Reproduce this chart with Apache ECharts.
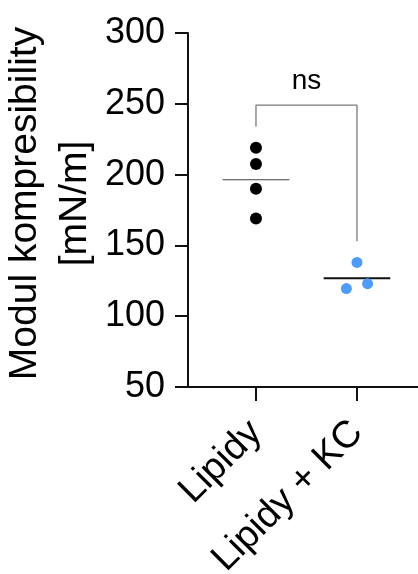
<!DOCTYPE html>
<html>
<head>
<meta charset="utf-8">
<script src="https://cdn.jsdelivr.net/npm/echarts@6/dist/echarts.min.js"></script>
<style>
  html, body { margin: 0; padding: 0; background: #fff; }
  #chart { width: 418px; height: 574px; }
</style>
</head>
<body>
<div id="chart"></div>
<script>
// skupiny a namerene hodnoty
var categories = ['Lipidy', 'Lipidy + KC'];
var lipidy = [219, 207.5, 190, 169];
var lipidyKC = [138, 119.5, 123];
var kcJitter = [0, -0.105, 0.105];
var yTicks = [50, 100, 150, 200, 250, 300];
// vyska zavorky pro ns: levy konec, vrchol, pravy konec
var bracket = [234, 249, 153];
var nsLabel = 'ns';

function mean(arr) {
    var s = 0;
    for (var i = 0; i < arr.length; i++) s += arr[i];
    return s / arr.length;
}

var font = "'Liberation Sans', Arial, sans-serif";
var myChart = echarts.init(document.getElementById('chart'));

var m1 = mean(lipidy), m2 = mean(lipidyKC);

var option = {
    animation: false,
    grid: { left: 188, top: 33, right: 0, bottom: 187, containLabel: false, outerBoundsMode: 'none' },
    xAxis: {
        type: 'value',
        min: 0.327,
        max: 2.604,
        splitLine: { show: false },
        axisLine: { show: true, onZero: false, lineStyle: { color: '#111', width: 2 } },
        axisTick: { show: true, customValues: [1, 2], length: 14, lineStyle: { color: '#111', width: 2 } },
        axisLabel: {
            customValues: [1, 2],
            formatter: function (v) { return categories[Math.round(v) - 1]; },
            rotate: 45,
            margin: 40,
            fontSize: 38,
            color: '#000',
            fontFamily: font
        }
    },
    yAxis: {
        type: 'value',
        min: yTicks[0],
        max: yTicks[yTicks.length - 1],
        interval: 50,
        name: 'Modul kompresibility\n[mN/m]',
        nameLocation: 'middle',
        nameGap: 88,
        nameMoveOverlap: false,
        nameTextStyle: { fontSize: 39, color: '#000', fontFamily: font, lineHeight: 50, padding: [0, 0, 0, 13] },
        splitLine: { show: false },
        axisLine: { show: true, onZero: false, lineStyle: { color: '#111', width: 2 } },
        axisTick: { show: true, length: 13, lineStyle: { color: '#111', width: 2 } },
        axisLabel: { margin: 23, fontSize: 36, color: '#000', fontFamily: font }
    },
    series: [
        {
            type: 'line',
            data: [[1, bracket[0]], [1, bracket[1]], [2, bracket[1]], [2, bracket[2]]],
            showSymbol: false,
            lineStyle: { color: '#7a7a7a', width: 1.3 },
            z: 1
        },
        {
            type: 'scatter',
            data: [[1.5, 266]],
            symbolSize: 0,
            itemStyle: { opacity: 1 },
            label: { show: true, position: 'inside', formatter: nsLabel, fontSize: 28, color: '#000', fontFamily: font }
        },
        {
            type: 'line',
            data: [[1 - 0.33, m1], [1 + 0.33, m1]],
            showSymbol: false,
            lineStyle: { color: '#444', width: 1.2 },
            z: 3
        },
        {
            type: 'line',
            data: [[2 - 0.33, m2], [2 + 0.33, m2]],
            showSymbol: false,
            lineStyle: { color: '#111', width: 2 },
            z: 3
        },
        {
            type: 'scatter',
            data: lipidy.map(function (v) { return [1, v]; }),
            symbolSize: 12,
            itemStyle: { color: '#000', opacity: 1 },
            z: 4
        },
        {
            type: 'scatter',
            data: lipidyKC.map(function (v, i) { return [2 + kcJitter[i], v]; }),
            symbolSize: 11,
            itemStyle: { color: '#4f9bf5', opacity: 1 },
            z: 4
        }
    ]
};

myChart.setOption(option);
</script>
</body>
</html>
